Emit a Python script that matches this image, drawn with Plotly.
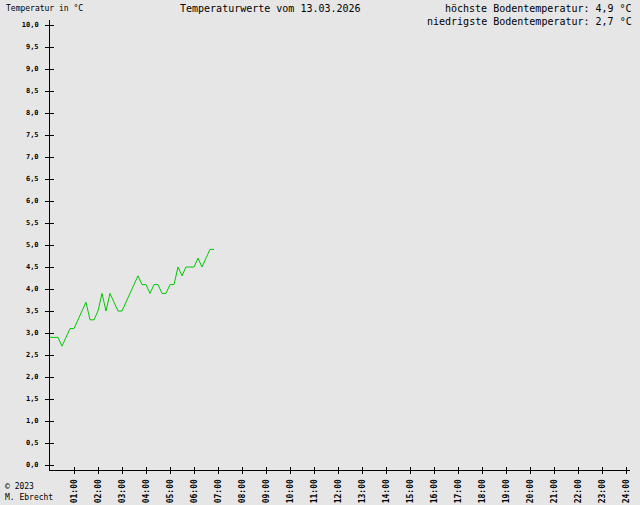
import plotly.graph_objects as go

minutes = [i * 10 for i in range(42)]
temps = [2.9, 2.9, 2.9, 2.7, 2.9, 3.1, 3.1, 3.3, 3.5, 3.7,
         3.3, 3.3, 3.5, 3.9, 3.5, 3.9, 3.7, 3.5, 3.5, 3.7,
         3.9, 4.1, 4.3, 4.1, 4.1, 3.9, 4.1, 4.1, 3.9, 3.9,
         4.1, 4.1, 4.5, 4.3, 4.5, 4.5, 4.5, 4.7, 4.5, 4.7,
         4.9, 4.9]
hours = [m / 60 for m in minutes]

ytick_vals = [i * 0.5 for i in range(21)]
ytick_text = [f"<b>{v:.1f}</b>".replace(".", ",") for v in ytick_vals]
xtick_vals = list(range(1, 25))
xtick_text = [f"<b>{h:02d}:00</b>" for h in xtick_vals]

title = "Temperaturwerte vom 13.03.2026"
max_text = "höchste Bodentemperatur: 4,9 °C"
min_text = "niedrigste Bodentemperatur: 2,7 °C"
yunit = "Temperatur in °C"
copyright_lines = ["© 2023", "M. Ebrecht"]

BG = "#e6e6e6"
MONO = "DejaVu Sans Mono"

L, R, T, B = 50, 10, 20, 35
W, H = 640, 505
pw, ph = W - L - R, H - T - B
xmax = 24 + 4 / 24.0
ymin, ymax = -5 / 44.0, 10 + 5 / 44.0


def px(x):
    return (x - L) / pw


def py(y):
    return (H - B - y) / ph


fig = go.Figure()
fig.add_trace(go.Scatter(x=hours, y=temps, mode="lines",
                         line=dict(color="#00c800", width=1), hoverinfo="skip"))
# dummy trace on secondary axes for inside ticks
fig.add_trace(go.Scatter(x=[0], y=[0], xaxis="x2", yaxis="y2", mode="markers",
                         marker=dict(opacity=0), hoverinfo="skip"))

fig.update_layout(
    width=W, height=H,
    margin=dict(l=L, r=R, t=T, b=B),
    paper_bgcolor=BG, plot_bgcolor=BG,
    showlegend=False,
    font=dict(family=MONO, color="black"),
    xaxis=dict(range=[0, xmax], tickvals=xtick_vals, ticktext=xtick_text,
               tickangle=-90, ticks="outside", ticklen=3, tickwidth=1,
               tickcolor="black", showline=True, linecolor="black", linewidth=1,
               showgrid=False, zeroline=False, automargin=False,
               ticklabelstandoff=2,
               tickfont=dict(size=8, family=MONO)),
    yaxis=dict(range=[ymin, ymax], tickvals=ytick_vals, ticktext=ytick_text,
               ticks="outside", ticklen=4, tickwidth=1, tickcolor="black",
               showline=True, linecolor="black", linewidth=1,
               showgrid=False, zeroline=False, automargin=False,
               ticklabelstandoff=5,
               tickfont=dict(size=7, family=MONO)),
    xaxis2=dict(range=[0, xmax], overlaying="x", tickvals=xtick_vals,
                showticklabels=False, ticks="inside", ticklen=3, tickwidth=1,
                tickcolor="black", showgrid=False, zeroline=False, side="bottom"),
    yaxis2=dict(range=[ymin, ymax], overlaying="y", tickvals=ytick_vals,
                showticklabels=False, ticks="inside", ticklen=4, tickwidth=1,
                tickcolor="black", showgrid=False, zeroline=False, side="left"),
)

ann = []
ann.append(dict(text=title, x=px(270), y=py(8), xanchor="center", yanchor="middle",
                font=dict(size=10, family=MONO)))
ann.append(dict(text=max_text, x=px(634), y=py(8), xanchor="right", yanchor="middle",
                font=dict(size=10, family=MONO)))
ann.append(dict(text=min_text, x=px(634), y=py(21), xanchor="right", yanchor="middle",
                font=dict(size=10, family=MONO)))
ann.append(dict(text=yunit, x=px(4), y=py(9), xanchor="left", yanchor="middle",
                font=dict(size=8, family=MONO)))
ann.append(dict(text=copyright_lines[0], x=px(3), y=py(487), xanchor="left", yanchor="middle",
                font=dict(size=8, family=MONO)))
ann.append(dict(text=copyright_lines[1], x=px(3), y=py(497), xanchor="left", yanchor="middle",
                font=dict(size=8, family=MONO)))
for a in ann:
    a.update(xref="paper", yref="paper", showarrow=False)
fig.update_layout(annotations=ann)

fig.write_html("out.html",
               config={"displayModeBar": False},
               post_script="document.body.style.margin='0px';"
                           "document.body.style.background='" + BG + "';")
